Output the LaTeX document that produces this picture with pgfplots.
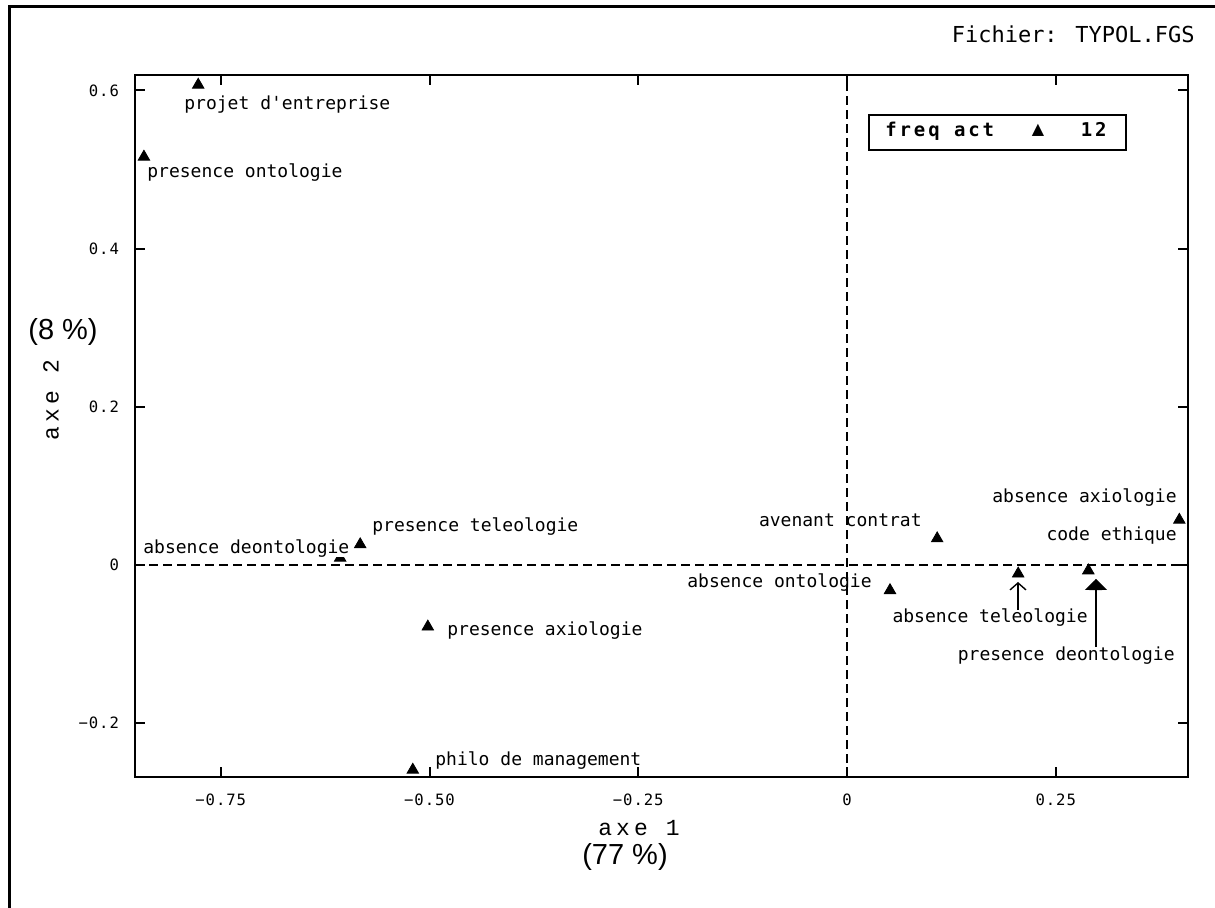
\documentclass[border=0pt]{standalone}
\usepackage{fontspec}
\usepackage{pgfplots}
\usepackage{pgfplotstable}
\pgfplotsset{compat=1.18}
\usetikzlibrary{arrows.meta}
\setmainfont{DejaVu Sans Mono}
\newfontfamily\labf{DejaVu Sans Mono}
\newfontfamily\tickf[LetterSpace=6]{DejaVu Sans Mono}
\newfontfamily\legf[LetterSpace=15]{DejaVu Sans Mono}
\newfontfamily\titf[LetterSpace=18]{Liberation Mono}
\newfontfamily\arial{Liberation Sans}
\newfontfamily\symf{DejaVu Sans}

% coordonnees des 12 modalites (axe 1, axe 2)
\pgfplotstableread{
x       y
-0.777  0.607
-0.842  0.516
-0.583  0.026
-0.607  0.009
-0.502  -0.078
-0.520  -0.259
0.0515  -0.032
0.108   0.0335
0.398   0.057
0.289   -0.007
0.205   -0.011
0.298   -0.027
}\pts

\begin{document}
\begin{tikzpicture}
\path[use as bounding box] (0,0) rectangle (607.5pt,-454pt);
\begin{axis}[
  at={(67.5pt,-388.5pt)}, anchor=south west,
  scale only axis, width=526.5pt, height=351pt,
  xmin=-0.8527, xmax=0.4084, ymin=-0.268, ymax=0.6195,
  axis line style={line width=1pt},
  tick style={line width=1pt, black},
  tick align=inside, major tick length=5pt,
  xtick={-0.75,-0.5,-0.25,0,0.25},
  xticklabels={−0.75,−0.50,−0.25,0,0.25},
  ytick={-0.2,0,0.2,0.4,0.6},
  yticklabels={−0.2,0,0.2,0.4,0.6},
  ticklabel style={font=\tickf\fontsize{7.8pt}{9pt}\selectfont},
  xticklabel style={yshift=-5pt},
  yticklabel style={xshift=-4.5pt},
  xlabel={axe 1}, ylabel={axe 2},
  label style={font=\titf\fontsize{11.5pt}{13pt}\selectfont},
  xlabel style={at={(axis description cs:0.4786,-0.0726)}, anchor=center},
  ylabel style={at={(axis description cs:-0.0798,0.537)}, anchor=center},
  clip=false,
]
\draw[line width=0.9pt, dash pattern=on 4.5pt off 2.5pt] (axis cs:0,-0.268) -- (axis cs:0,0.6195);
\draw[line width=0.9pt, dash pattern=on 4.5pt off 2.5pt] (axis cs:-0.8527,0) -- (axis cs:0.4084,0);
\addplot[only marks, mark=triangle*, mark size=3.3pt, black] table {\pts};
\end{axis}

\begin{scope}[x=0.5pt, y=-0.5pt, lab/.style={font=\labf\fontsize{9pt}{10pt}\selectfont, inner sep=0pt}]
\draw[line width=1.5pt] (9,908) -- (9,6.5) -- (1215,6.5);
\node[anchor=base east, inner sep=0pt, font=\labf\fontsize{11pt}{13pt}\selectfont] at (1195,43) {Fichier: TYPOL.FGS};
% legende
\draw[line width=1pt] (869,115) rectangle (1126,150);
\node[anchor=base west, inner sep=0pt, font=\legf\bfseries\fontsize{9.5pt}{11pt}\selectfont] at (885,137) {freq act};
\node[anchor=base east, inner sep=0pt, font=\legf\bfseries\fontsize{9.5pt}{11pt}\selectfont] at (1107,137) {12};
\node[inner sep=0pt, font=\symf\fontsize{8pt}{9pt}\selectfont] at (1038,130) {▲};
% etiquettes
\node[lab, anchor=base west] at (184,110) {projet d'entreprise};
\node[lab, anchor=base west] at (147,178) {presence ontologie};
\node[lab, anchor=base west] at (372,532) {presence teleologie};
\node[lab, anchor=base west, fill=white] at (143,553) {absence deontologie};
\node[lab, anchor=base west] at (447,635) {presence axiologie};
\node[lab, anchor=base west] at (435,765) {philo de management};
\node[lab, anchor=base east] at (872,588) {absence ontologie};
\node[lab, anchor=base east] at (922,527) {avenant contrat};
\node[lab, anchor=base east] at (1177,503) {absence axiologie};
\node[lab, anchor=base east] at (1177,541) {code ethique};
\node[lab, anchor=base east] at (1088,623) {absence teleologie};
\node[lab, anchor=base east] at (1175,660) {presence deontologie};
\draw[line width=0.7pt, -{Straight Barb[length=3.5pt,width=8pt]}] (1018,610) -- (1018,582);
\draw[line width=0.7pt, -{Triangle[length=5.5pt,width=11pt]}] (1096,647) -- (1096,579);
% pourcentages d'inertie
\node[inner sep=0pt, font=\arial\fontsize{14.5pt}{16pt}\selectfont] at (63,332) {(8 \%)};
\node[inner sep=0pt, font=\arial\fontsize{14.5pt}{16pt}\selectfont] at (625,857) {(77 \%)};
\end{scope}
\end{tikzpicture}
\end{document}
